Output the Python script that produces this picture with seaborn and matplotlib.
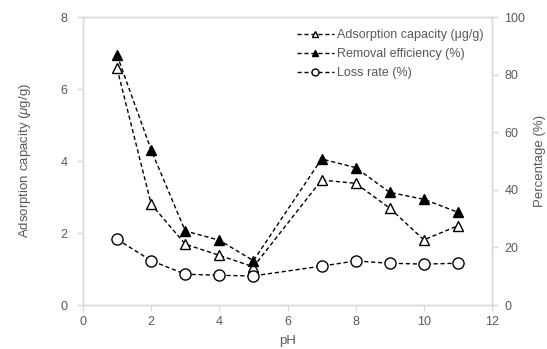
import matplotlib
matplotlib.use("Agg")
import matplotlib.pyplot as plt
import seaborn as sns
import pandas as pd

ph = [1, 2, 3, 4, 5, 7, 8, 9, 10, 11]
adsorption = [6.57, 2.80, 1.69, 1.38, 1.06, 3.47, 3.38, 2.69, 1.81, 2.20]
removal = [86.7, 53.8, 25.7, 22.5, 15.4, 50.7, 47.7, 39.1, 36.7, 32.2]
loss = [22.8, 15.4, 10.7, 10.3, 10.1, 13.5, 15.3, 14.5, 14.2, 14.5]

labels = ["Adsorption capacity (\u03bcg/g)", "Removal efficiency (%)", "Loss rate (%)"]
xticks = [0, 2, 4, 6, 8, 10, 12]
yticks_left = [0, 2, 4, 6, 8]
yticks_right = [0, 20, 40, 60, 80, 100]

df = pd.DataFrame({"pH": ph, "ads": adsorption, "rem": removal, "loss": loss})

sns.set_style("white")
plt.rcParams["font.family"] = ["Liberation Sans", "DejaVu Sans"]
plt.rcParams["mathtext.fontset"] = "custom"
plt.rcParams["mathtext.it"] = "Liberation Sans:italic"
plt.rcParams["mathtext.rm"] = "Liberation Sans"

fig = plt.figure(figsize=(5.47, 3.49), dpi=100)
ax = fig.add_axes([83 / 547, 1 - 305 / 349, (492 - 83) / 547, (305 - 17) / 349])
ax2 = ax.twinx()

grey = "#d9d9d9"
tcol = "#595959"
common = dict(color="black", linestyle=(0, (3, 2)), linewidth=1.0, markersize=7,
              markeredgecolor="black", markeredgewidth=1.0)

sns.lineplot(data=df, x="pH", y="ads", ax=ax, marker="^", markerfacecolor="white",
             label=labels[0], legend=False, **common)
sns.lineplot(data=df, x="pH", y="rem", ax=ax2, marker="^", markerfacecolor="black",
             label=labels[1], legend=False, **common)
sns.lineplot(data=df, x="pH", y="loss", ax=ax2, marker="o", markerfacecolor="white",
             label=labels[2], legend=False, **dict(common, markersize=8))

ax.set_xlim(0, 12)
ax.set_ylim(0, 8)
ax2.set_ylim(0, 100)
ax.set_xticks(xticks)
ax.set_yticks(yticks_left)
ax2.set_yticks(yticks_right)

for a in (ax, ax2):
    for s in a.spines.values():
        s.set_color(grey)
        s.set_linewidth(1.0)
    a.tick_params(axis="both", colors=grey, labelcolor=tcol, labelsize=9,
                  direction="out", length=4, width=1)
    a.grid(False)

ax.tick_params(axis="y", left=True, pad=7)
ax.tick_params(axis="x", bottom=True, pad=4)
ax2.tick_params(axis="y", right=True, pad=5)

ax.set_xlabel("pH", color=tcol, fontsize=9.5, labelpad=5)
ax.set_ylabel("Adsorption capacity ($\\mu$g/g)", color=tcol, fontsize=9.5, labelpad=20)
ax2.set_ylabel("Percentage (%)", color=tcol, fontsize=9.5, labelpad=6)

h1, l1 = ax.get_legend_handles_labels()
h2, l2 = ax2.get_legend_handles_labels()
leg = ax2.legend(h1 + h2, labels, loc="upper left", bbox_to_anchor=(0.51, 0.975),
                 frameon=False, fontsize=9, handlelength=3.0, handletextpad=0.2,
                 labelspacing=0.55, labelcolor=tcol, borderaxespad=0, markerscale=0.7)
leg.legend_handles[2].set_markersize(5)

fig.savefig("out.png", dpi=100)
